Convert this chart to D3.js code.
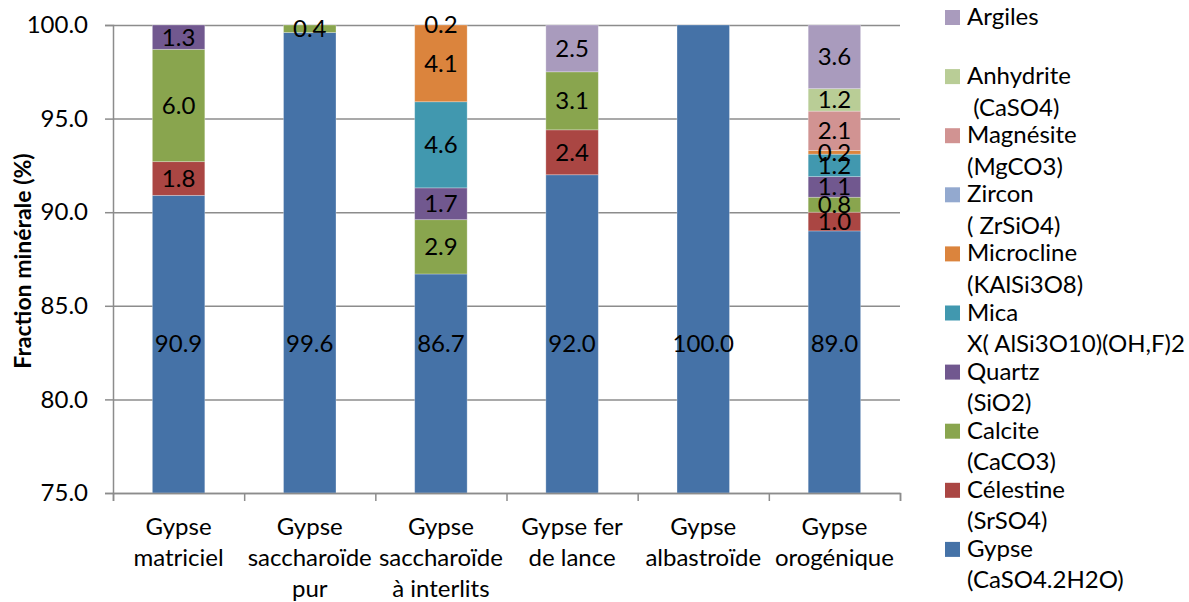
<!DOCTYPE html>
<html>
<head>
<meta charset="utf-8">
<script src="https://cdn.jsdelivr.net/npm/d3@7"></script>
<style>
  body { margin: 0; background: #fff; }
  text { font-family: Lato, "Open Sans", sans-serif; fill: #000; }
</style>
</head>
<body>
<div id="chart"></div>
<script>
// categories (one entry per line of the label)
var categories = [
  ["Gypse", "matriciel"],
  ["Gypse", "saccharoïde", "pur"],
  ["Gypse", "saccharoïde", "à interlits"],
  ["Gypse fer", "de lance"],
  ["Gypse", "albastroïde"],
  ["Gypse", "orogénique"]
]
var minerals = ["Gypse", "Célestine", "Calcite", "Quartz", "Mica", "Microcline", "Zircon", "Magnésite", "Anhydrite", "Argiles"]
var formulas = ["(CaSO4.2H2O)", "(SrSO4)", "(CaCO3)", "(SiO2)", "X( AlSi3O10)(OH,F)2", "(KAlSi3O8)", "( ZrSiO4)", "(MgCO3)", " (CaSO4)", ""]
var colors = ["#4572A7", "#AA4643", "#89A54E", "#71588F", "#4198AF", "#DB843D", "#93A9CF", "#D19392", "#B9CD96", "#A99BBD"]

// fractions (%) per mineral, one value per category
var gypse      = [90.9, 99.6, 86.7, 92.0, 100.0, 89.0]
var celestine  = [1.8, 0, 0, 2.4, 0, 1.0]
var calcite    = [6.0, 0.4, 2.9, 3.1, 0, 0.8]
var quartz     = [1.3, 0, 1.7, 0, 0, 1.1]
var mica       = [0, 0, 4.6, 0, 0, 1.2]
var microcline = [0, 0, 4.1, 0, 0, 0.2]
var zircon     = [0, 0, 0.2, 0, 0, 0]
var magnesite  = [0, 0, 0, 0, 0, 2.1]
var anhydrite  = [0, 0, 0, 0, 0, 1.2]
var argiles    = [0, 0, 0, 2.5, 0, 3.6]

var yTicks = [75, 80, 85, 90, 95, 100]

var series = [gypse, celestine, calcite, quartz, mica, microcline, zircon, magnesite, anhydrite, argiles]

var width = 1189, height = 602
var m = {left: 113, top: 25, right: 289, bottom: 109}
var W = width - m.left - m.right, H = height - m.top - m.bottom

var rows = categories.map(function(c, i) {
  var r = {cat: i}
  minerals.forEach(function(name, j) { r[name] = series[j][i] })
  return r
})
var stacked = d3.stack().keys(minerals)(rows)

var svg = d3.select('#chart').append('svg')
  .attr('width', width).attr('height', height)

var x = d3.scaleBand().domain(d3.range(categories.length))
  .range([m.left, m.left + W]).paddingInner(0.6).paddingOuter(0.3)
var xEdge = d3.scaleLinear().domain([0, categories.length]).range([m.left, m.left + W])
var y = d3.scaleLinear().domain([75, 100]).range([m.top + H, m.top])

// gridlines
svg.append('g')
  .attr('transform', `translate(${m.left},0)`)
  .call(d3.axisLeft(y).tickValues(yTicks).tickSize(-W).tickFormat(''))
  .call(g => g.select('.domain').remove())
  .call(g => g.selectAll('line').attr('stroke', '#8c8c8c').attr('stroke-width', 1.5))

svg.append('clipPath').attr('id', 'plot')
  .append('rect').attr('x', m.left).attr('y', m.top).attr('width', W).attr('height', H)

var layers = svg.append('g').attr('clip-path', 'url(#plot)')
  .selectAll('g').data(stacked).enter().append('g')
  .attr('fill', (d, i) => colors[i])

layers.selectAll('rect').data(d => d.filter(p => p[1] - p[0] > 0)).enter().append('rect')
  .attr('x', d => x(d.data.cat))
  .attr('width', x.bandwidth())
  .attr('y', d => y(Math.min(d[1], 100)))
  .attr('height', d => Math.max(0, y(Math.max(d[0], 75)) - y(Math.min(d[1], 100))))
  .attr('stroke', 'rgba(255,255,255,0.35)').attr('stroke-width', 0.8)

// axes
svg.append('g')
  .attr('transform', `translate(${m.left},0)`)
  .call(d3.axisLeft(y).tickValues(yTicks).tickSize(8).tickPadding(17).tickFormat(d3.format('.1f')))
  .call(g => g.selectAll('.domain, line').attr('stroke', '#8c8c8c').attr('stroke-width', 1.5))
  .call(g => g.selectAll('text').attr('font-size', 24).attr('font-family', 'Lato'))

svg.append('g')
  .attr('transform', `translate(0,${m.top + H})`)
  .call(d3.axisBottom(xEdge).ticks(categories.length).tickSize(8).tickFormat(''))
  .call(g => g.selectAll('.domain, line').attr('stroke', '#8c8c8c').attr('stroke-width', 1.5))

// category labels
svg.append('g').selectAll('text').data(categories).enter().append('text')
  .attr('text-anchor', 'middle')
  .attr('font-size', 24)
  .attr('x', (d, i) => x(i) + x.bandwidth() / 2)
  .attr('y', m.top + H + 42)
  .selectAll('tspan').data(d => d).enter().append('tspan')
  .attr('x', function() { return this.parentNode.getAttribute('x') })
  .attr('dy', (d, i) => i === 0 ? 0 : 31)
  .text(d => d)

// data labels
var labelFloor = 83
svg.append('g').selectAll('g').data(stacked).enter().append('g')
  .selectAll('text').data(d => d.filter(p => p[1] - p[0] > 0)).enter().append('text')
  .attr('text-anchor', 'middle')
  .attr('font-size', 24)
  .attr('dy', '0.35em')
  .attr('x', d => x(d.data.cat) + x.bandwidth() / 2)
  .attr('y', d => d[0] < 75 ? y(labelFloor) : y((Math.max(d[0], 75) + Math.min(d[1], 100)) / 2))
  .text(d => d3.format('.1f')(d[1] - d[0]))

// y title
svg.append('text')
  .attr('transform', `translate(31,${m.top + H / 2 + 2}) rotate(-90)`)
  .attr('text-anchor', 'middle')
  .attr('font-size', 23).attr('font-weight', 'bold')
  .text('Fraction minérale (%)')

// legend (reverse order, top = Argiles)
var legend = svg.append('g').attr('transform', 'translate(945,0)')
var items = legend.selectAll('g').data(minerals.slice().reverse()).enter().append('g')
  .attr('transform', (d, i) => `translate(0,${25 + i * 59.1})`)
items.append('rect').attr('x', 0).attr('y', -15).attr('width', 15).attr('height', 15)
  .attr('fill', d => colors[minerals.indexOf(d)])
items.append('text').attr('x', 22).attr('font-size', 24).text(d => d)
items.append('text').attr('x', 22).attr('y', 31.5).attr('font-size', 24)
  .style('white-space', 'pre')
  .text(d => formulas[minerals.indexOf(d)])
</script>
</body>
</html>
